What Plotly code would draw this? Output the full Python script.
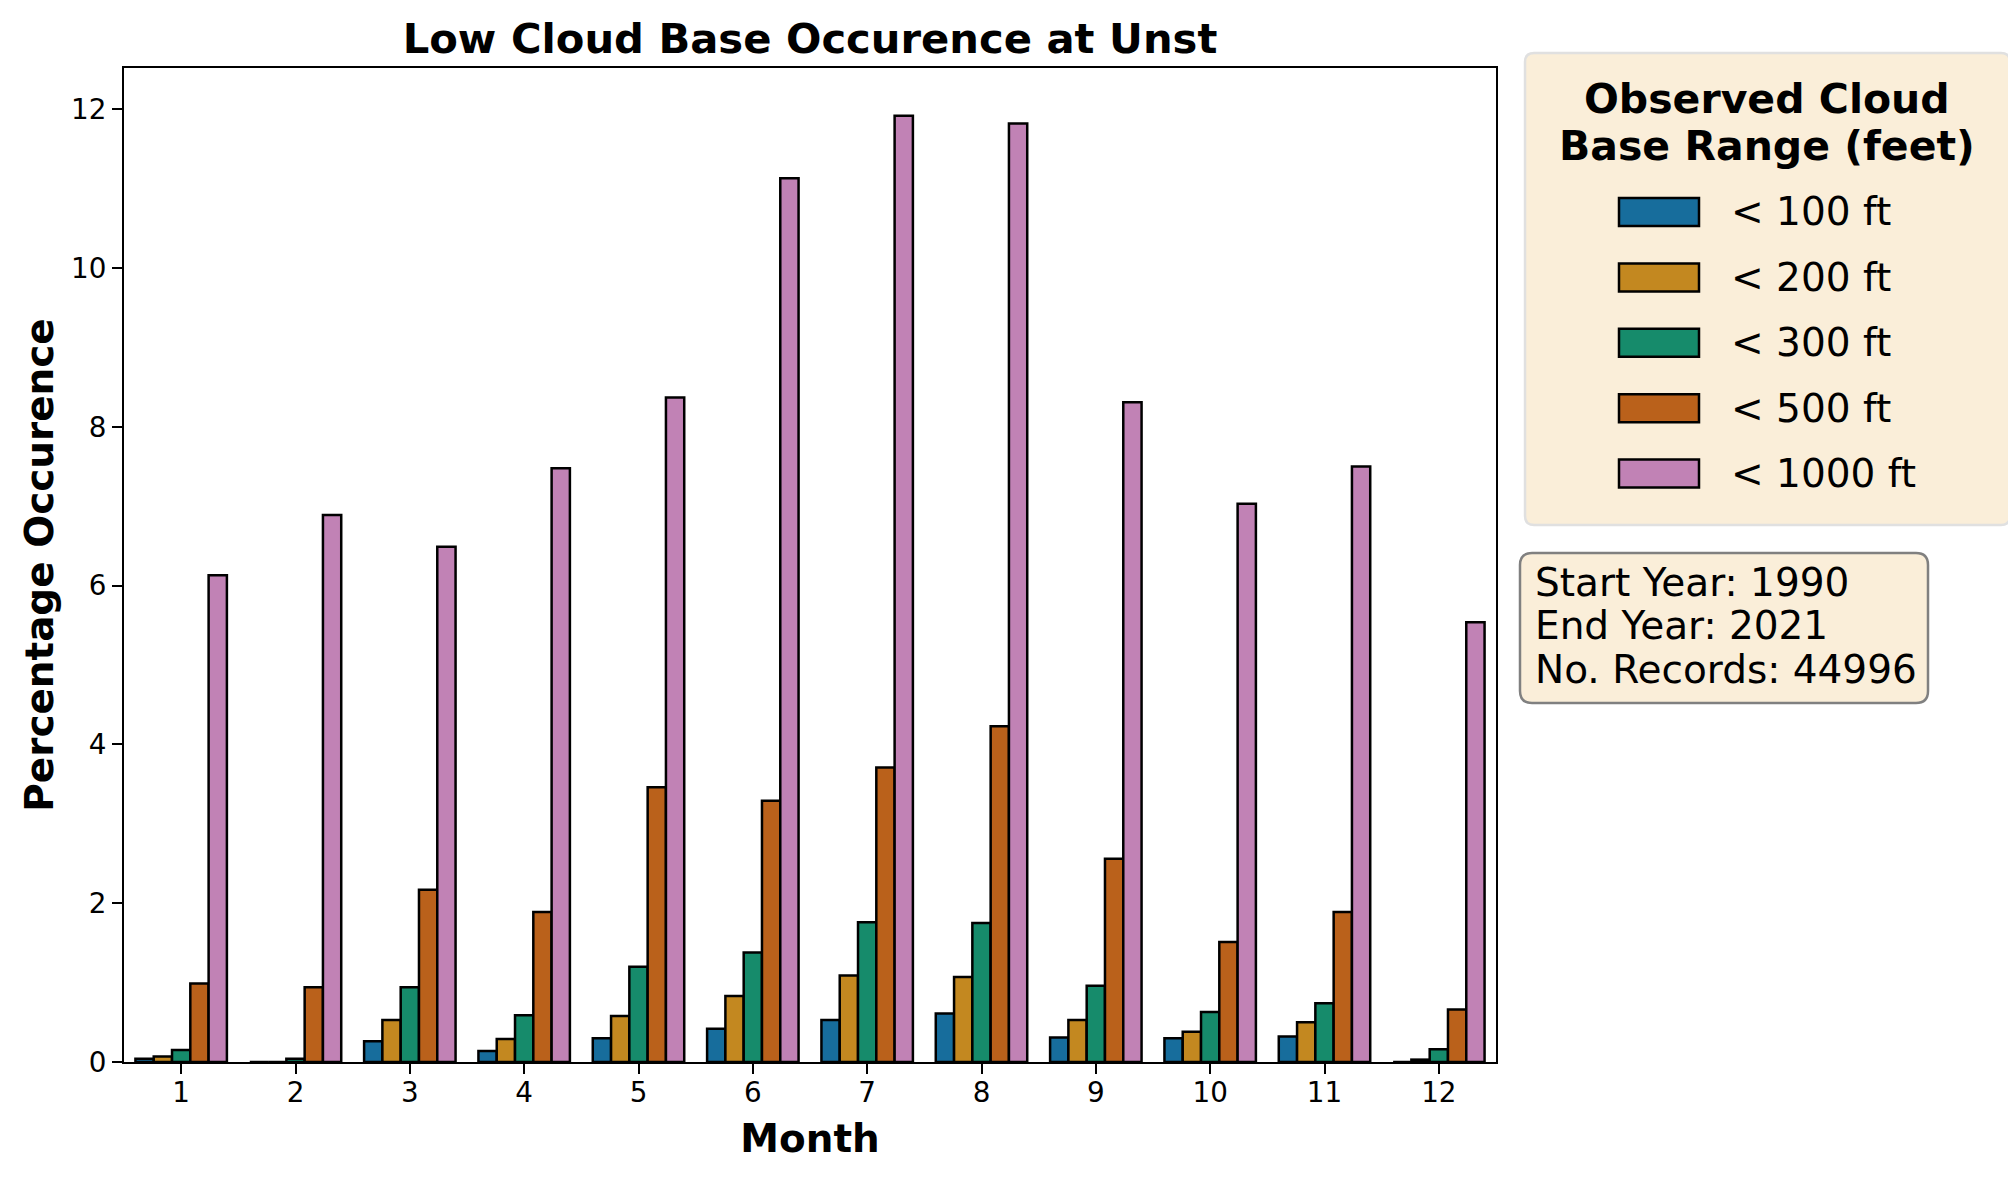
import plotly.graph_objects as go

# ---------------- data ----------------
months = [1, 2, 3, 4, 5, 6, 7, 8, 9, 10, 11, 12]
series_names = ["< 100 ft", "< 200 ft", "< 300 ft", "< 500 ft", "< 1000 ft"]
lt100 = [0.04, 0.00, 0.26, 0.14, 0.30, 0.42, 0.53, 0.61, 0.31, 0.30, 0.32, 0.00]
lt200 = [0.07, 0.00, 0.53, 0.29, 0.58, 0.83, 1.09, 1.07, 0.53, 0.38, 0.50, 0.03]
lt300 = [0.15, 0.04, 0.94, 0.59, 1.20, 1.38, 1.76, 1.75, 0.96, 0.63, 0.74, 0.16]
lt500 = [0.99, 0.94, 2.17, 1.89, 3.46, 3.29, 3.71, 4.23, 2.56, 1.51, 1.89, 0.66]
lt1000 = [6.13, 6.89, 6.49, 7.48, 8.37, 11.13, 11.92, 11.82, 8.31, 7.03, 7.50, 5.54]
series_values = [lt100, lt200, lt300, lt500, lt1000]
colors = ["#176D9C", "#C38820", "#168B6B", "#BA611B", "#C182B5"]
yticks = [0, 2, 4, 6, 8, 10, 12]
info_lines = ["Start Year: 1990", "End Year: 2021", "No. Records: 44996"]
legend_title_lines = ["Observed Cloud", "Base Range (feet)"]

# ---------------- layout geometry (pixels, page coordinates) ----------------
S = 8                      # default page margin of the html body
W, H = 2016 - 2 * S, 1179 - 2 * S
L, R, T, B = 124 - S, 1496 - S, 68 - S, 1062 - S
PW, PH = R - L, B - T


def px(xp):
    return (xp - S - L) / PW


def py(yp):
    return (B - (yp - S)) / PH


def rounded_path(x0, y0, x1, y1, r):
    def P(a, b):
        return f"{px(a):.5f},{py(b):.5f}"
    return (f"M {P(x0 + r, y0)} L {P(x1 - r, y0)} Q {P(x1, y0)} {P(x1, y0 + r)} "
            f"L {P(x1, y1 - r)} Q {P(x1, y1)} {P(x1 - r, y1)} "
            f"L {P(x0 + r, y1)} Q {P(x0, y1)} {P(x0, y1 - r)} "
            f"L {P(x0, y0 + r)} Q {P(x0, y0)} {P(x0 + r, y0)} Z")


FONT = "DejaVu Sans"
fig = go.Figure()
for name, vals, col in zip(series_names, series_values, colors):
    fig.add_trace(go.Bar(
        x=months, y=vals, name=name, showlegend=False,
        marker=dict(color=col, line=dict(color="black", width=2.5)),
    ))

shapes = []
annotations = []

# legend box
shapes.append(dict(type="path", xref="paper", yref="paper",
                   path=rounded_path(1525, 53, 2010, 525, 9),
                   fillcolor="#FAEED9", line=dict(color="#E0E0E0", width=2.5)))
for i, t in enumerate(legend_title_lines):
    annotations.append(dict(xref="paper", yref="paper", x=px(1767), y=py(99 + 47 * i),
                            text=t, showarrow=False, xanchor="center", yanchor="middle",
                            font=dict(family=FONT, size=41, color="black", weight="bold")))
for i, (name, col) in enumerate(zip(series_names, colors)):
    yc = 212 + 65.4 * i
    shapes.append(dict(type="rect", xref="paper", yref="paper",
                       x0=px(1619), x1=px(1699), y0=py(yc + 14), y1=py(yc - 14),
                       fillcolor=col, line=dict(color="black", width=2.5)))
    annotations.append(dict(xref="paper", yref="paper", x=px(1729), y=py(yc),
                            text=name, showarrow=False, xanchor="left", yanchor="middle",
                            font=dict(family=FONT, size=39, color="black")))

# info box
shapes.append(dict(type="path", xref="paper", yref="paper",
                   path=rounded_path(1520, 553, 1928, 703, 12),
                   fillcolor="#FAEED9", line=dict(color="#808080", width=2.5)))
for i, t in enumerate(info_lines):
    annotations.append(dict(xref="paper", yref="paper", x=px(1533), y=py(582 + 43.5 * i),
                            text=t, showarrow=False, xanchor="left", yanchor="middle",
                            font=dict(family=FONT, size=39, color="black")))

fig.update_layout(
    width=W, height=H,
    margin=dict(l=L, r=W - R, t=T, b=H - B, autoexpand=False),
    paper_bgcolor="white", plot_bgcolor="white",
    font=dict(family=FONT, color="black", size=28),
    barmode="group", bargap=0.2, bargroupgap=0,
    title=dict(text="Low Cloud Base Occurence at Unst", x=0.5, xref="paper", xanchor="center",
               y=1 - (38 - S) / H, yref="container", yanchor="middle",
               font=dict(family=FONT, size=41.7, color="black", weight="bold")),
    xaxis=dict(range=[0.5, 12.5], tickmode="array", tickvals=months,
               ticktext=[str(m) for m in months],
               showline=True, linecolor="black", linewidth=2, mirror=True,
               ticks="outside", ticklen=10, tickwidth=2, tickcolor="black",
               ticklabelstandoff=-5,
               showgrid=False, zeroline=False,
               tickfont=dict(family=FONT, size=27.8, color="black"),
               title=dict(text="Month", standoff=16,
                          font=dict(family=FONT, size=38.9, color="black", weight="bold"))),
    yaxis=dict(range=[0, 12.52], tickmode="array", tickvals=yticks,
               ticktext=[str(v) for v in yticks],
               showline=True, linecolor="black", linewidth=2, mirror=True,
               ticks="outside", ticklen=10, tickwidth=2, tickcolor="black",
               showgrid=False, zeroline=False,
               tickfont=dict(family=FONT, size=27.8, color="black"),
               title=dict(text="Percentage Occurence", standoff=5,
                          font=dict(family=FONT, size=38.9, color="black", weight="bold"))),
    shapes=shapes, annotations=annotations,
)

fig.write_html("out.html")
